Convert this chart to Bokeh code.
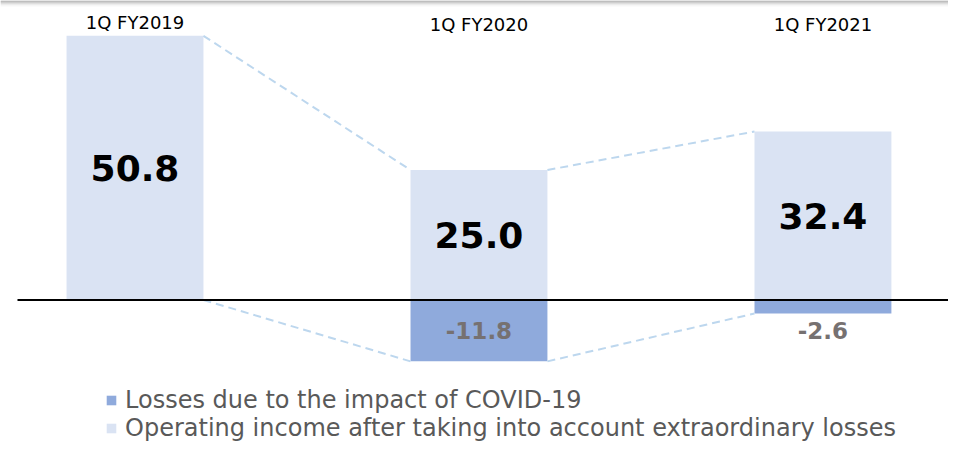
from bokeh.plotting import figure
from bokeh.models import ColumnDataSource, Range1d, Legend, LegendItem, BoxAnnotation
from bokeh.embed import file_html
from bokeh.resources import INLINE
from bokeh.core.properties import value

categories = ["1Q FY2019", "1Q FY2020", "1Q FY2021"]
operating_income = [50.8, 25.0, 32.4]
covid_losses = [0.0, -11.8, -2.6]

LIGHT = "#DAE3F3"
DARK = "#8FAADC"
DASH = "#BDD7EE"
GRAY_LABEL = "#767171"

xs = list(range(len(categories)))
W = 0.398
Y_TOP, Y_BOT = 57.6, -27.79
X_LEFT, X_RIGHT = -0.391, 2.365

p = figure(width=948, height=444, x_range=Range1d(X_LEFT, X_RIGHT), y_range=Range1d(Y_BOT, Y_TOP),
           toolbar_location=None, output_backend="svg", x_axis_type=None, y_axis_type=None,
           min_border=0, outline_line_color=None)
p.grid.visible = False

# top shadow band (decorative)
PX = (Y_TOP - Y_BOT) / 444.0
for k, c in enumerate(["#9a9a9a", "#b0b0b0", "#c6c6c6", "#dadada", "#ebebeb", "#f7f7f7"]):
    p.add_layout(BoxAnnotation(top=Y_TOP - k * PX, bottom=Y_TOP - (k + 1) * PX,
                               fill_color=c, fill_alpha=1, line_color=None))

src = ColumnDataSource(dict(x=xs, op=operating_income))
r_op = p.vbar(x="x", top="op", bottom=0, width=W, source=src, fill_color=LIGHT, line_color=None)
loss_idx = [i for i, v in enumerate(covid_losses) if v < 0]
src_loss = ColumnDataSource(dict(x=[xs[i] for i in loss_idx], loss=[covid_losses[i] for i in loss_idx]))
r_loss = p.vbar(x="x", top=0, bottom="loss", width=W, source=src_loss, fill_color=DARK, line_color=None)

# connector dashed lines
x0 = [xs[i] + W / 2 for i in range(len(xs) - 1)]
x1 = [xs[i + 1] - W / 2 for i in range(len(xs) - 1)]
p.segment(x0=x0, y0=operating_income[:-1], x1=x1, y1=operating_income[1:],
          line_color=DASH, line_width=2, line_dash="8 5")
p.segment(x0=x0, y0=covid_losses[:-1], x1=x1, y1=covid_losses[1:],
          line_color=DASH, line_width=2, line_dash="8 5")

# zero line
p.segment(x0=[-0.3416], y0=[0], x1=[X_RIGHT], y1=[0], line_color="black", line_width=2.2)

# value labels
p.text(x=xs, y=[v / 2 for v in operating_income], text=[f"{v:.1f}" for v in operating_income],
       text_align="center", text_baseline="middle", text_font=value("DejaVu Sans"),
       text_font_style="bold", text_font_size="36px", text_color="black")
loss_label_y = [covid_losses[i] / 2 if covid_losses[i] < -8 else covid_losses[i] - 3.3 for i in loss_idx]
p.text(x=[xs[i] for i in loss_idx], y=loss_label_y,
       text=[f"{covid_losses[i]:.1f}" for i in loss_idx],
       text_align="center", text_baseline="middle", text_font=value("DejaVu Sans"),
       text_font_style="bold", text_font_size="23px", text_color=GRAY_LABEL)

# category labels
p.text(x=xs, y=[max(v + 2.6, 52.95) for v in operating_income], text=categories,
       text_align="center", text_baseline="alphabetic", text_font=value("DejaVu Sans"),
       text_font_size="18px", text_color="black")

legend = Legend(items=[LegendItem(label="Losses due to the impact of COVID-19", renderers=[r_loss]),
                       LegendItem(label="Operating income after taking into account extraordinary losses", renderers=[r_op])],
                location=(105, 2), orientation="vertical", background_fill_alpha=0, border_line_color=None,
                label_text_font="DejaVu Sans", label_text_font_size="24px", label_text_color="#595959",
                glyph_width=12, glyph_height=12, label_standoff=8, padding=0, margin=0, spacing=0,
                label_height=20)
p.add_layout(legend, "center")

open("out.html", "w").write(file_html(p, INLINE))
